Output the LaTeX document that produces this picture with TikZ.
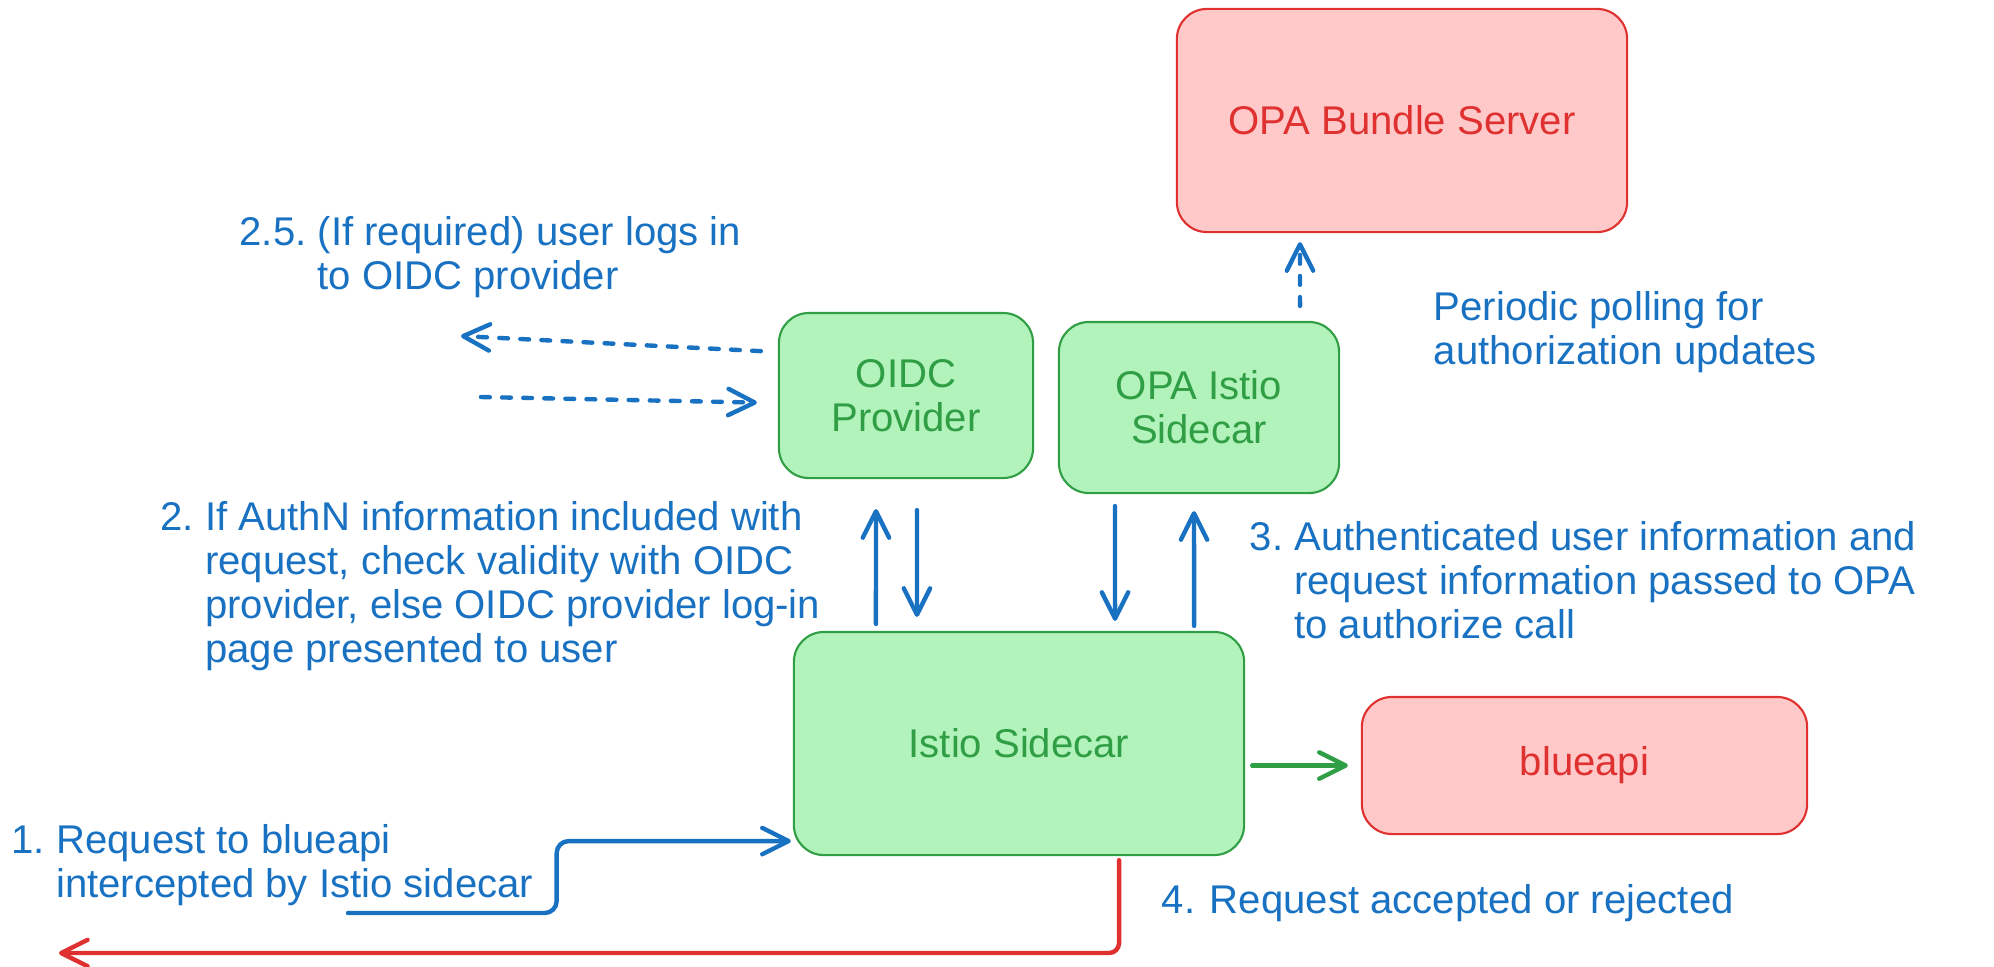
\documentclass[tikz,border=0pt]{standalone}
\usepackage{fontspec}
\setmainfont{Liberation Sans}
\usetikzlibrary{arrows.meta}
\definecolor{flowblue}{HTML}{1971C2}
\definecolor{boxgreen}{HTML}{B2F2BB}
\definecolor{linegreen}{HTML}{2F9E44}
\definecolor{boxred}{HTML}{FFC9C9}
\definecolor{linered}{HTML}{E03131}
\newcommand\notefont{\fontsize{11.4}{12.6}\selectfont}
\newcommand\stepnote[2]{\begin{tabular}[t]{@{}l@{\ }l@{}}#1 & #2\end{tabular}}
\tikzset{
    greenbox/.style={draw=linegreen, fill=boxgreen, text=linegreen, line width=0.6pt,
        rounded corners=0.3cm, align=center, font=\notefont},
    redbox/.style={draw=linered, fill=boxred, text=linered, line width=0.6pt,
        rounded corners=0.3cm, align=center, font=\notefont},
    note/.style={text=flowblue, font=\notefont, inner sep=0pt, anchor=base west},
    flow/.style={draw=flowblue, line width=1.25pt, line cap=round,
        -{Straight Barb[length=7.5pt,width=7.5pt,round]}},
    dashflow/.style={flow, dash pattern=on 2.5pt off 3.5pt},
    greenflow/.style={flow, draw=linegreen},
    redflow/.style={flow, draw=linered, rounded corners=0.1cm},
}

\begin{document}
\begin{tikzpicture}[x=0.01cm,y=-0.01cm]
                    \useasboundingbox (0,0) rectangle (1994,966);
                    \node[redbox, minimum width=4.5cm, minimum height=2.23cm] (bundle) at (1402,120.5) {OPA Bundle Server};
                    \node[greenbox, minimum width=2.54cm, minimum height=1.65cm] (oidc) at (906,395.5) {OIDC\\Provider};
                    \node[greenbox, minimum width=2.8cm, minimum height=1.71cm] (opasc) at (1199,407.5) {OPA Istio\\Sidecar};
                    \node[greenbox, minimum width=4.5cm, minimum height=2.23cm] (istio) at (1019,743.5) {Istio Sidecar};
                    \node[redbox, minimum width=4.45cm, minimum height=1.37cm] (blueapi) at (1584.5,765.5) {blueapi};
                    \node[note] (step25) at (239,245) {\stepnote{2.5.}{(If required) user logs in\\ & to OIDC provider}};
                    \node[note] (polling) at (1433,320) {\begin{tabular}[t]{@{}l@{}}Periodic polling for\\authorization updates\end{tabular}};
                    \node[note] (step2) at (160,530) {\stepnote{2.}{If AuthN information included with\\ & request, check validity with OIDC\\ & provider, else OIDC provider log-in\\ & page presented to user}};
                    \node[note] (step3) at (1249,550) {\stepnote{3.}{Authenticated user information and\\ & request information passed to OPA\\ & to authorize call}};
                    \node[note] (step1) at (11,853) {\stepnote{1.}{Request to blueapi\\ & intercepted by Istio sidecar}};
                    \node[note] (step4) at (1161,913) {4. Request accepted or rejected};
                    \coordinate (userout) at (461,336);
                    \coordinate (userin) at (481,397);
                    \coordinate (client) at (348,913);
                    \coordinate (caller) at (59,953);
                    \draw[dashflow, shorten <=0.17cm] ([yshift=0.435cm]oidc.west) -- (userout);
                    \draw[dashflow, shorten >=0.21cm] (userin) -- ([yshift=-0.075cm]oidc.west);
                    \draw[dashflow, shorten <=0.15cm, shorten >=0.09cm] ([xshift=1.01cm]opasc.north) -- ([xshift=-1.02cm]bundle.south);
                    \draw[flow, shorten <=0.07cm, shorten >=0.30cm] ([xshift=-1.43cm]istio.north) -- ([xshift=-0.30cm]oidc.south);
                    \draw[flow, shorten <=0.31cm, shorten >=0.14cm] ([xshift=0.11cm]oidc.south) -- ([xshift=-1.02cm]istio.north);
                    \draw[flow, shorten <=0.12cm, shorten >=0.10cm] ([xshift=-0.84cm]opasc.south) -- ([xshift=0.96cm]istio.north);
                    \draw[flow, shorten <=0.05cm, shorten >=0.17cm] ([xshift=1.75cm]istio.north) -- ([xshift=-0.05cm]opasc.south);
                    \draw[greenflow, shorten <=0.07cm, shorten >=0.13cm] (istio.east |- blueapi.west) -- (blueapi.west);
                    \draw[flow, rounded corners=0.12cm, shorten >=0.02cm] (client) -| ([xshift=-2.36cm,yshift=-0.975cm]istio.west) -- ([yshift=-0.975cm]istio.west);
                    \draw[redflow, shorten <=0.04cm] ([xshift=1cm]istio.south) |- (caller);
                \end{tikzpicture}
\end{document}
